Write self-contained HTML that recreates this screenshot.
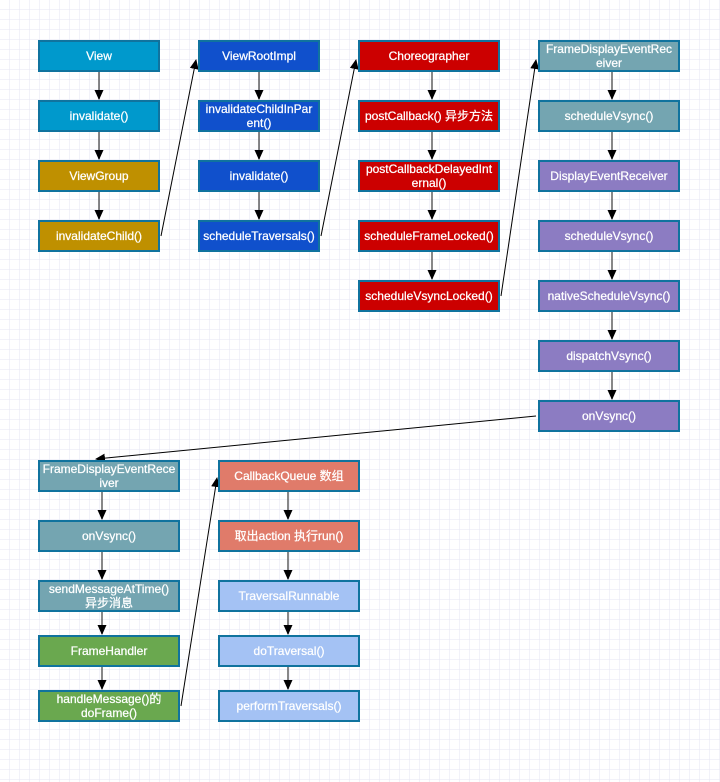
<!DOCTYPE html>
<html><head><meta charset="utf-8"><style>
html,body{margin:0;padding:0;background:#fff}
svg{display:block}
text{font-family:"Liberation Sans","Noto Sans CJK SC",sans-serif;font-size:12px;fill:#fff;text-anchor:middle;stroke:#fff;stroke-width:0.25}
</style></head><body>
<svg width="720" height="782" viewBox="0 0 720 782" xmlns="http://www.w3.org/2000/svg">
<defs>
<pattern id="g" width="10" height="10" patternUnits="userSpaceOnUse"><path d="M10 0V10M0 10H10" stroke="#e6e6f3" stroke-width="1" fill="none"/></pattern>
<marker id="a" markerWidth="10" markerHeight="10" refX="9" refY="4.5" orient="auto" markerUnits="userSpaceOnUse"><path d="M0,0L10,4.5L0,9z" fill="#000"/></marker>
</defs>
<rect width="720" height="782" fill="url(#g)"/>
<g stroke="#555" stroke-width="1.4" fill="none" marker-end="url(#a)">
<path d="M99 71V99"/><path d="M99 131V159"/><path d="M99 191V219"/>
<path d="M259 71V99"/><path d="M259 131V159"/><path d="M259 191V219"/>
<path d="M432 71V99"/><path d="M432 131V159"/><path d="M432 191V219"/><path d="M432 251V279"/>
<path d="M612 71V99"/><path d="M612 131V159"/><path d="M612 191V219"/><path d="M612 251V279"/><path d="M612 311V339"/><path d="M612 371V399"/>
<path d="M102 491V519"/><path d="M102 551V579"/><path d="M102 611V634"/><path d="M102 666V689"/>
<path d="M288 491V519"/><path d="M288 551V579"/><path d="M288 611V634"/><path d="M288 666V689"/>
</g>
<g stroke="#000" stroke-width="1" fill="none" marker-end="url(#a)">
<path d="M161 236L196 60"/><path d="M321 236L356 60"/><path d="M501 296L536 60"/><path d="M536 416L96 459"/><path d="M181 706L217 478"/>
</g>
<g stroke="#10739e" stroke-width="2">
<rect x="39" y="41" width="120" height="30" fill="#0099cc"/>
<rect x="39" y="101" width="120" height="30" fill="#0099cc"/>
<rect x="39" y="161" width="120" height="30" fill="#bf9000"/>
<rect x="39" y="221" width="120" height="30" fill="#bf9000"/>
<rect x="199" y="41" width="120" height="30" fill="#1050cc"/>
<rect x="199" y="101" width="120" height="30" fill="#1050cc"/>
<rect x="199" y="161" width="120" height="30" fill="#1050cc"/>
<rect x="199" y="221" width="120" height="30" fill="#1050cc"/>
<rect x="359" y="41" width="140" height="30" fill="#cc0000"/>
<rect x="359" y="101" width="140" height="30" fill="#cc0000"/>
<rect x="359" y="161" width="140" height="30" fill="#cc0000"/>
<rect x="359" y="221" width="140" height="30" fill="#cc0000"/>
<rect x="359" y="281" width="140" height="30" fill="#cc0000"/>
<rect x="539" y="41" width="140" height="30" fill="#74a5b1"/>
<rect x="539" y="101" width="140" height="30" fill="#74a5b1"/>
<rect x="539" y="161" width="140" height="30" fill="#8c7cc2"/>
<rect x="539" y="221" width="140" height="30" fill="#8c7cc2"/>
<rect x="539" y="281" width="140" height="30" fill="#8c7cc2"/>
<rect x="539" y="341" width="140" height="30" fill="#8c7cc2"/>
<rect x="539" y="401" width="140" height="30" fill="#8c7cc2"/>
<rect x="39" y="461" width="140" height="30" fill="#74a5b1"/>
<rect x="39" y="521" width="140" height="30" fill="#74a5b1"/>
<rect x="39" y="581" width="140" height="30" fill="#74a5b1"/>
<rect x="39" y="636" width="140" height="30" fill="#6aa84f"/>
<rect x="39" y="691" width="140" height="30" fill="#6aa84f"/>
<rect x="219" y="461" width="140" height="30" fill="#e07b6a"/>
<rect x="219" y="521" width="140" height="30" fill="#e07b6a"/>
<rect x="219" y="581" width="140" height="30" fill="#a4c2f4"/>
<rect x="219" y="636" width="140" height="30" fill="#a4c2f4"/>
<rect x="219" y="691" width="140" height="30" fill="#a4c2f4"/>
</g>
<text x="99" y="60">View</text>
<text x="99" y="120">invalidate()</text>
<text x="99" y="180">ViewGroup</text>
<text x="99" y="240">invalidateChild()</text>
<text x="259" y="60">ViewRootImpl</text>
<text x="259" y="113">invalidateChildInPar</text><text x="259" y="127">ent()</text>
<text x="259" y="180">invalidate()</text>
<text x="259" y="240">scheduleTraversals()</text>
<text x="429" y="60">Choreographer</text>
<text x="429" y="120">postCallback() 异步方法</text>
<text x="429" y="173">postCallbackDelayedInt</text><text x="429" y="187">ernal()</text>
<text x="429" y="240">scheduleFrameLocked()</text>
<text x="429" y="300">scheduleVsyncLocked()</text>
<text x="609" y="53">FrameDisplayEventRec</text><text x="609" y="67">eiver</text>
<text x="609" y="120">scheduleVsync()</text>
<text x="609" y="180">DisplayEventReceiver</text>
<text x="609" y="240">scheduleVsync()</text>
<text x="609" y="300">nativeScheduleVsync()</text>
<text x="609" y="360">dispatchVsync()</text>
<text x="609" y="420">onVsync()</text>
<text x="109" y="473">FrameDisplayEventRece</text><text x="109" y="487">iver</text>
<text x="109" y="540">onVsync()</text>
<text x="109" y="593">sendMessageAtTime()</text><text x="109" y="607">异步消息</text>
<text x="109" y="655">FrameHandler</text>
<text x="109" y="703">handleMessage()的</text><text x="109" y="717">doFrame()</text>
<text x="289" y="480">CallbackQueue 数组</text>
<text x="289" y="540">取出action 执行run()</text>
<text x="289" y="600">TraversalRunnable</text>
<text x="289" y="655">doTraversal()</text>
<text x="289" y="710">performTraversals()</text>
</svg>
</body></html>
